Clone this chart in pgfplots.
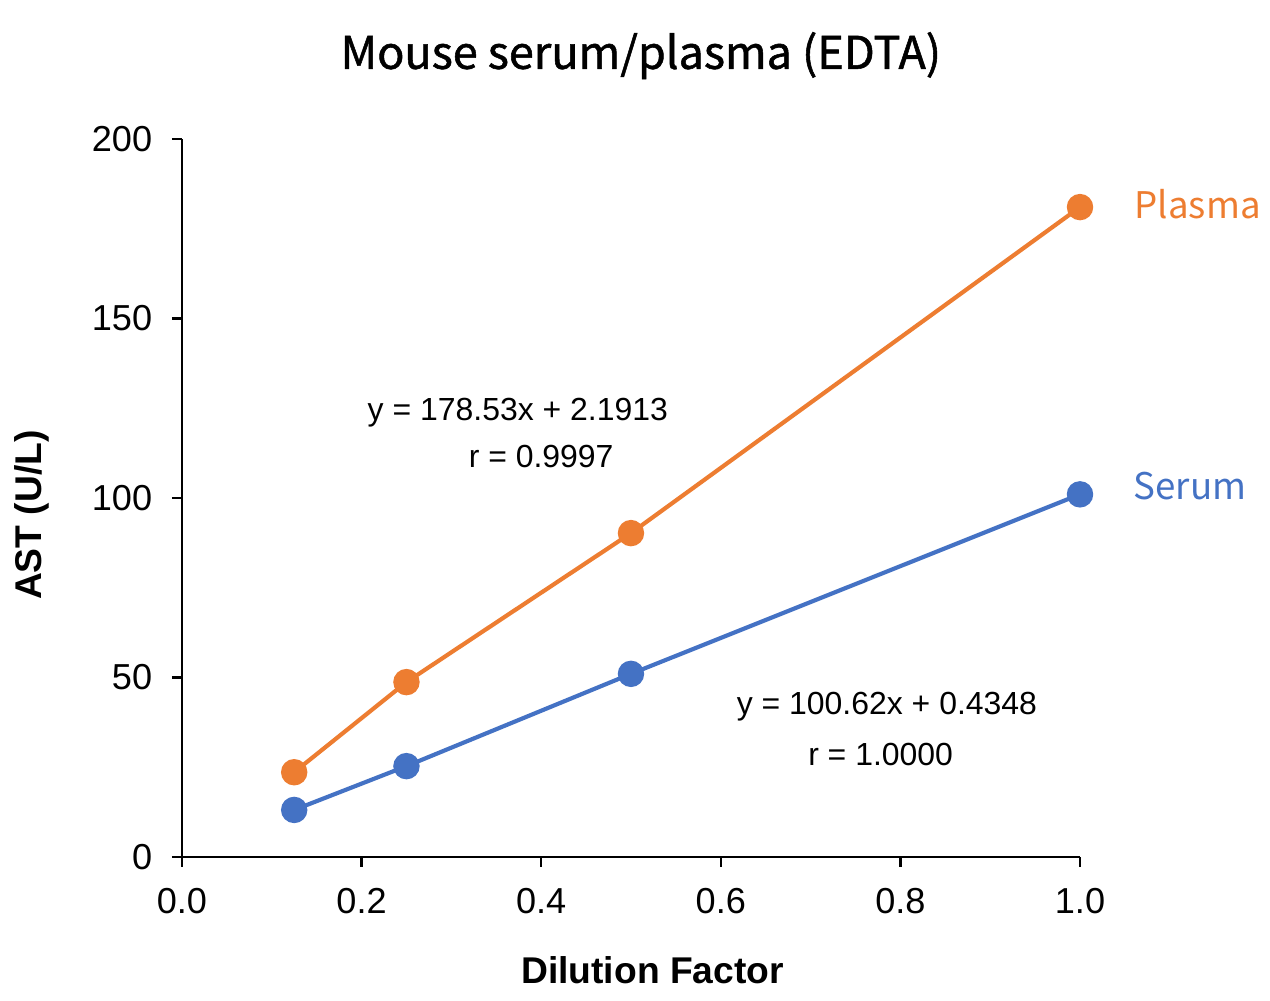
\documentclass[border=0pt]{standalone}
\usepackage{fontspec}
\setmainfont{Liberation Sans}
\newfontfamily\jpfont{Noto Sans CJK JP}
\newfontfamily\jptitle[FakeBold=1.2]{Noto Sans CJK JP}
\usepackage{pgfplots}
\pgfplotsset{compat=1.18}
\definecolor{plasmaC}{HTML}{ED7D31}
\definecolor{serumC}{HTML}{4472C4}

\begin{document}
\begin{tikzpicture}
\begin{axis}[
    at={(0,0)}, anchor=south west,
    scale only axis,
    width=323.3pt, height=258.5pt,
    xmin=0, xmax=1, ymin=0, ymax=200,
    axis x line*=bottom, axis y line*=left,
    axis line style={black, line width=0.8pt},
    xtick={0,0.2,0.4,0.6,0.8,1.0},
    ytick={0,50,100,150,200},
    tick align=outside, major tick length=3.6pt,
    tick style={black, line width=0.8pt},
    /pgf/number format/assume math mode=true,
    tick label style={font=\fontsize{13}{15}\selectfont},
    yticklabel style={xshift=-3.6pt},
    xticklabel style={yshift=-4pt, /pgf/number format/.cd, fixed, fixed zerofill, precision=1},
    clip=false,
    every axis plot/.append style={line width=1.5pt, mark=*, mark size=4pt},
]
\addplot[color=plasmaC, mark options={fill=plasmaC, draw=plasmaC}] coordinates {
    (0.125,23.6) (0.25,48.7) (0.5,90.2) (1.0,181.0)
};
\addplot[color=serumC, mark options={fill=serumC, draw=serumC}] coordinates {
    (0.125,13.1) (0.25,25.3) (0.5,51.0) (1.0,101.0)
};
\node[font=\fontsize{11.5}{13}\selectfont] at (axis cs:0.374,123.8) {y = 178.53x + 2.1913};
\node[font=\fontsize{11.5}{13}\selectfont] at (axis cs:0.40,111.4) {r = 0.9997};
\node[font=\fontsize{11.5}{13}\selectfont] at (axis cs:0.785,41.9) {y = 100.62x + 0.4348};
\node[font=\fontsize{11.5}{13}\selectfont] at (axis cs:0.778,28.5) {r = 1.0000};
\node[anchor=west, text=plasmaC, font=\jpfont\fontsize{13.2}{15}\selectfont] at (axis cs:1.05,181.8) {Plasma};
\node[anchor=west, text=serumC, font=\jpfont\fontsize{13.2}{15}\selectfont] at (axis cs:1.049,103.3) {Serum};
\node[font=\jptitle\fontsize{16.2}{19}\selectfont] at (axis cs:0.511,223.2) {Mouse serum/plasma (EDTA)};
\node[font=\bfseries\fontsize{13.4}{16}\selectfont] at ([yshift=-40.7pt]axis description cs:0.524,0) {Dilution Factor};
\node[rotate=90, font=\bfseries\fontsize{13.4}{16}\selectfont] at ([xshift=-54pt]axis description cs:0,0.476) {AST (U/L)};
\end{axis}
\pgfresetboundingbox
\path[use as bounding box] (-65.5pt,-51.5pt) rectangle (391.7pt,308.5pt);
\end{tikzpicture}
\end{document}
